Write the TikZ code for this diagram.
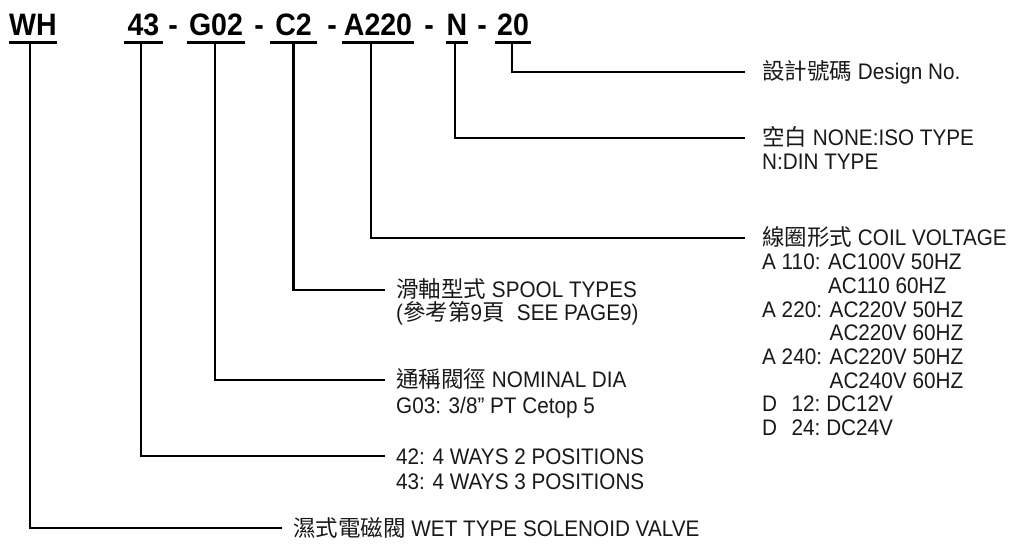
\documentclass[tikz,border=0pt]{standalone}
\usepackage{fontspec}
\setmainfont{Liberation Sans}[FakeStretch=0.92]
\newfontfamily\cjk{Noto Sans CJK TC}
\newlength\coilw
\begin{document}
\begin{tikzpicture}[x=1pt,y=-1pt,
  hdr/.style={font=\bfseries\fontsize{31}{33}\selectfont, inner xsep=0pt, inner ysep=0pt, text height=22pt, text depth=7pt, anchor=south},
  uline/.style={line width=3pt},
  conn/.style={line width=2.2pt},
  lbl/.style={font=\fontsize{22.5}{25}\selectfont, inner sep=0pt, text height=16pt, text depth=0pt, anchor=west, text=black!90}]
\useasboundingbox[fill=white] (0,0) rectangle (1013,548);
% header
\node[hdr, minimum width=48pt] (twh) at (33,43) {WH};
\node[hdr, minimum width=39pt] (t43) at (143.5,43) {43};
\node[hdr] (d1) at (173,43) {-};
\node[hdr, minimum width=58pt] (tg) at (216,43) {G02};
\node[hdr] (d2) at (259,43) {-};
\node[hdr, minimum width=47pt] (tc) at (293.5,43) {C2};
\node[hdr] (d3) at (332,43) {-};
\node[hdr, minimum width=72pt] (ta) at (378,43) {A220};
\node[hdr] (d4) at (429,43) {-};
\node[hdr, minimum width=22pt] (tn) at (457,43) {N};
\node[hdr] (d5) at (482,43) {-};
\node[hdr, minimum width=36pt] (t20) at (513,43) {20};
\foreach \n in {twh,t43,tg,tc,ta,tn,t20} \draw[uline] (\n.south west) -- (\n.south east);
% right labels
\node[lbl] (ldesign) at (762,72) {{\cjk 設計號碼} Design No.};
\node[lbl] (lnone) at (762,138) {{\cjk 空白} NONE:ISO TYPE};
\node[lbl] (lnone2) at (762,162) {N:DIN TYPE};
\node[lbl] (lcoil) at (762,238) {{\cjk 線圈形式} COIL VOLTAGE};
\node[lbl] (lc1) at (762,261.7) {A 110: AC100V 50HZ};
\node[lbl] (lc2) at (762,285.4) {\phantom{A 110: }AC110 60HZ};
\node[lbl] (lc3) at (762,309.1) {A 220: AC220V 50HZ};
\node[lbl] (lc4) at (762,332.8) {\phantom{A 220: }AC220V 60HZ};
\node[lbl] (lc5) at (762,356.5) {A 240: AC220V 50HZ};
\node[lbl] (lc6) at (762,380.2) {\phantom{A 240: }AC240V 60HZ};
\node[lbl] (lc7) at (762,403.9) {\settowidth\coilw{A 110:}\makebox[\coilw][s]{D\hfill 12:} DC12V};
\node[lbl] (lc8) at (762,427.6) {\settowidth\coilw{A 110:}\makebox[\coilw][s]{D\hfill 24:} DC24V};
% left labels
\node[lbl] (lspool) at (396,290) {{\cjk 滑軸型式} SPOOL TYPES};
\node[lbl] (lspool2) at (396,313) {({\cjk 參考第}9{\cjk 頁}\hspace{0.55em}SEE PAGE9)};
\node[lbl] (lnom) at (396,380) {{\cjk 通稱閥徑} NOMINAL DIA};
\node[lbl] (lnom2) at (396,405) {G03: 3/8” PT Cetop 5};
\node[lbl] (l42) at (396,456) {42: 4 WAYS 2 POSITIONS};
\node[lbl] (l43) at (396,481) {43: 4 WAYS 3 POSITIONS};
\node[lbl] (lwet) at (293,528) {{\cjk 濕式電磁閥} WET TYPE SOLENOID VALVE};
% connectors
\draw[conn] ([xshift=-1pt]t20.south) |- ([xshift=-17pt]ldesign.west);
\draw[conn] ([xshift=-2pt]tn.south) |- ([xshift=-17pt]lnone.west);
\draw[conn] ([xshift=-7pt]ta.south) |- ([xshift=-17pt]lcoil.west);
\draw[conn] (tc.south) |- ([xshift=-11pt]lspool.west);
\draw[conn] ([xshift=-1pt]tg.south) |- ([xshift=-11pt]lnom.west);
\draw[conn] ([xshift=-2.5pt]t43.south) |- ([xshift=-11pt]l42.west);
\draw[conn] ([xshift=-3pt]twh.south) |- ([xshift=-11pt]lwet.west);
\end{tikzpicture}
\end{document}
